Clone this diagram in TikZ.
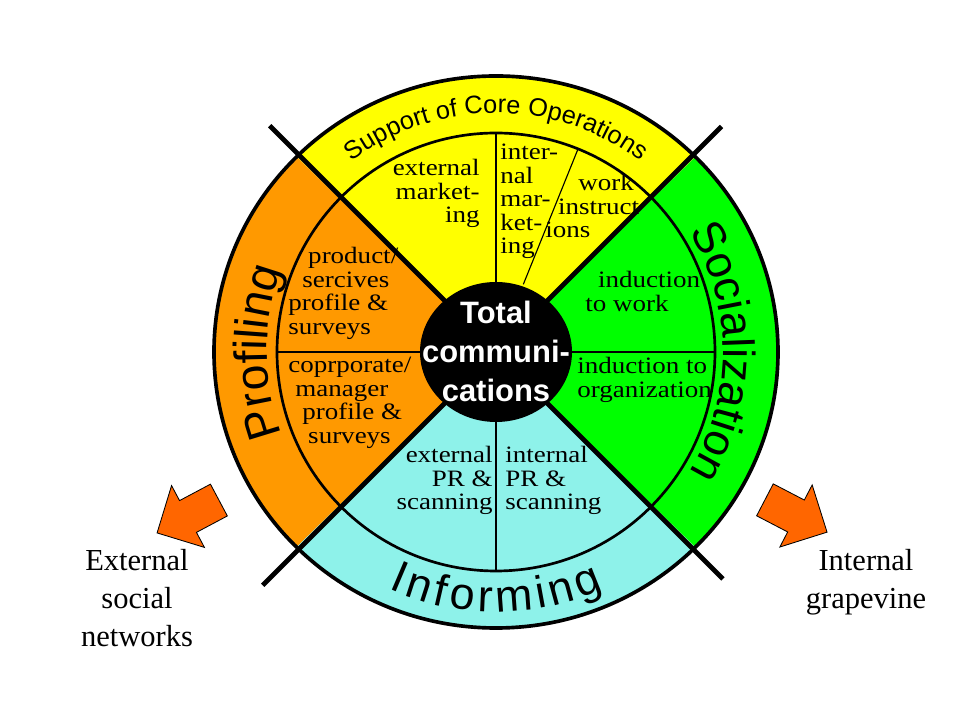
\documentclass[tikz,border=0pt]{standalone}
\usepackage{fontspec}
\setmainfont{Liberation Serif}
\newfontfamily\quadfont[FakeStretch=1.15]{Liberation Serif}
\newfontfamily\armfont{Liberation Sans}
\usetikzlibrary{decorations.text}
\pgfdeclarelayer{background}
\pgfsetlayers{background,main}
\definecolor{coreyellow}{HTML}{FFFF00}
\definecolor{profileorange}{HTML}{FF9900}
\definecolor{socialgreen}{HTML}{00FF00}
\definecolor{informcyan}{HTML}{8EF2EA}
\definecolor{arroworange}{HTML}{FF6600}
\newcommand{\supportstyle}{\armfont\fontsize{18}{18}\selectfont}
\newcommand{\armstyle}{\armfont\fontsize{33}{33}\selectfont}
\newcommand{\socialstyle}{\armfont\fontsize{32}{32}\selectfont}

\begin{document}
\begin{tikzpicture}[x=0.025cm,y=0.025cm]
\tikzstyle{quad}=[inner sep=0pt,font=\quadfont\fontsize{16.7}{16.7}\selectfont]
\tikzstyle{side label}=[inner sep=0pt,align=center,font=\fontsize{21.7}{27}\selectfont]
\tikzstyle{block arrow}=[draw=black,fill=arroworange,line width=0.6pt,line join=miter]
\tikzstyle{ring letter}=[inner sep=0pt,anchor=base,font=\armfont\fontsize{32}{32}\selectfont]
\useasboundingbox (-496,-368) rectangle (464,352);
\begin{pgfonlayer}{background}
\foreach \col/\a in {coreyellow/45,profileorange/135,informcyan/225,socialgreen/-45}
  \fill[\col] (0,0) -- (\a:282 and 276) arc[start angle=\a,delta angle=90,x radius=282,y radius=276] -- cycle;
\end{pgfonlayer}
% spokes inside the inner ring
\draw[line width=0.8pt] (0,219) -- (0,0) -- (0,-219);
\draw[line width=0.8pt] (-219,0) -- (219,0);
\draw[line width=0.8pt] (68:73) -- (68:219);
\draw[line width=1.9pt] (0,0) circle[radius=219];
\draw[line width=2.6pt] (0,0) ellipse[x radius=282,y radius=276];
\coordinate (nw) at (135:320);
\coordinate (se) at (-45:321);
\coordinate (ne) at (45:319);
\coordinate (sw) at (225:330);
\draw[line width=3.3pt] (nw) -- (se);
\draw[line width=3.3pt] (ne) -- (sw);
\fill[black] (0,0) ellipse[x radius=76,y radius=70];
\node[white,align=center,inner sep=0pt,font=\armfont\bfseries\fontsize{22}{27.7}\selectfont] (hub) at (0,1) {Total\\communi-\\cations};
% ring titles
\path[decorate,decoration={text along path,text align=center,text={|\supportstyle|Support of Core Operations}}]
  (135:239) arc[start angle=135,end angle=45,radius=239];
\path[decorate,decoration={text along path,text align=center,text={|\armstyle|Profiling}}]
  (225:229) arc[start angle=225,end angle=135,radius=229];
\path[decorate,decoration={text along path,text align=center,text={|\socialstyle|Socialization}}]
  (45:227) arc[start angle=45,end angle=-45,radius=227];
\foreach \ch/\ang [count=\i] in {I/246.98,n/252.05,f/257.11,o/262.18,r/267.53,m/274.25,i/280.42,n/285.21,g/291.66}
  \node[ring letter,rotate=\ang+90] (inf\i) at (\ang:260) {\ch};
% sector texts
\node[quad,anchor=north east,align=right] (extmkt) at (-16,193) {external\\market-\\ing};
\node[quad,anchor=north west,align=left] (intmkt) at (4,208) {inter-\\nal\\mar-\\ket-\\ing};
\node[quad,anchor=north west,align=left] (workins) at (49,178) {\hspace*{23.5pt}work\\\hspace*{9.2pt}instruct\\ions};
\node[quad,anchor=north west,align=left] (prodsurv) at (-208,105) {\hspace*{14.2pt}product/\\\hspace*{10pt}sercives\\profile \&\\surveys};
\node[quad,anchor=north west,align=left] (corpsurv) at (-208,-5) {coprporate/\\\hspace*{5pt}manager\\\hspace*{10pt}profile \&\\\hspace*{14.2pt}surveys};
\node[quad,anchor=north west,align=left] (indwork) at (89,81) {\hspace*{9.2pt}induction\\to work};
\node[quad,anchor=north west,align=left] (indorg) at (81,-5) {induction to\\organization};
\node[quad,anchor=north east,align=right] (extpr) at (-3,-94) {external\\PR \&\\scanning};
\node[quad,anchor=north west,align=left] (intpr) at (9,-94) {internal\\PR \&\\scanning};
% outside
\begin{scope}[shift={(-308,-164.5)},rotate=208]
\draw[block arrow] (-35,-18) -- (0,-18) -- (0,-35) -- (35,0) -- (0,35) -- (0,18) -- (-35,18) -- cycle;
\end{scope}
\begin{scope}[shift={(300,-164)},rotate=-27.5]
\draw[block arrow] (-35,-18) -- (0,-18) -- (0,-35) -- (35,0) -- (0,35) -- (0,18) -- (-35,18) -- cycle;
\end{scope}
\node[side label] (extnet) at (-359,-246) {External\\social\\networks};
\node[side label] (grapevine) at (370,-230) {Internal\\grapevine};
\end{tikzpicture}
\end{document}
